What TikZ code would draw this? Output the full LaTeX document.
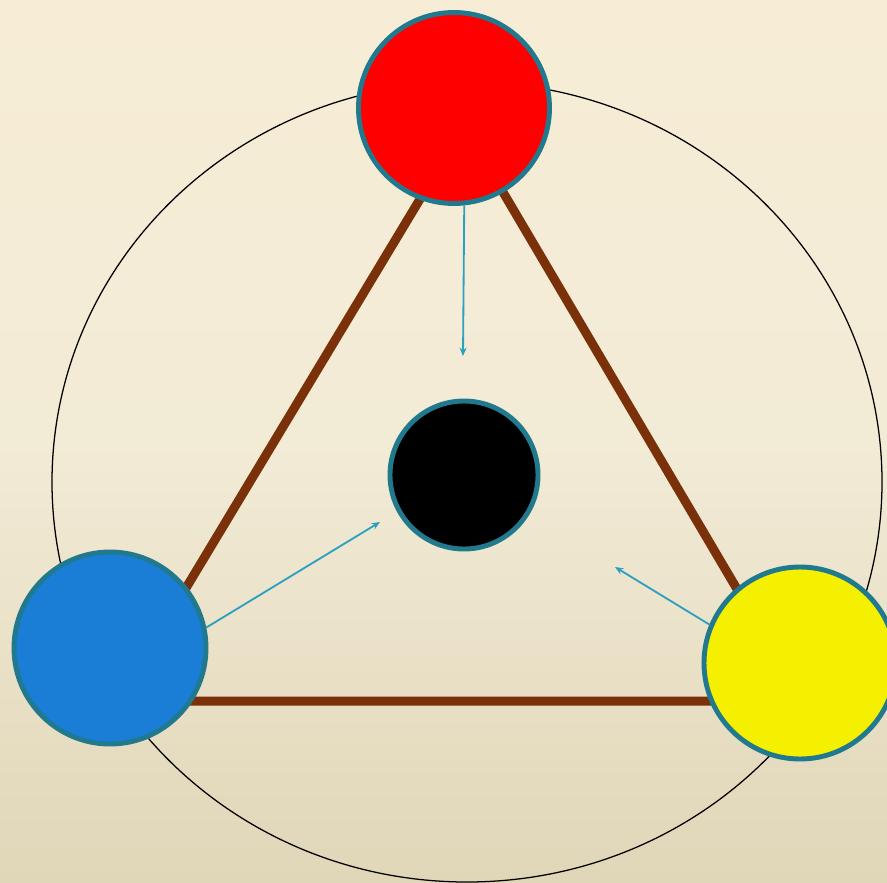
\documentclass[tikz,border=0pt]{standalone}
\usepackage{tikz}
\usetikzlibrary{arrows.meta,positioning,calc}
\definecolor{bgtop}{HTML}{F7EDD6}
\definecolor{bgmid}{HTML}{F2EBD6}
\definecolor{bgbot}{HTML}{E0D6B8}
\definecolor{rim}{HTML}{21798E}
\definecolor{brownedge}{HTML}{7A3008}
\definecolor{pointer}{HTML}{2BA0C0}
\definecolor{bluedot}{HTML}{1A7ED6}
\definecolor{yellowdot}{HTML}{F5F000}
\tikzset{
 dot/.style={circle,draw=rim,line width=3.5pt,inner sep=0pt},
 pointerarrow/.style={draw=pointer,line width=1.3pt,-{Stealth[length=6pt,width=5pt,inset=2pt]}},
}

\begin{document}
\begin{tikzpicture}[x=0.025cm,y=-0.025cm]
\shade[top color=bgtop,bottom color=bgbot,middle color=bgmid] (0,0) rectangle (887,882);
\useasboundingbox (0,0) rectangle (887,882);
% outer ring
\draw[line width=0.9pt] (467,482) ellipse [x radius=415,y radius=400];
% triangle behind the dots
\coordinate (apex) at (464,126);
\coordinate (left) at (118,701);
\coordinate (right) at (803,701);
\draw[brownedge,line width=6.4pt,line join=miter] (apex)--(left)--(right)--cycle;
% dots
\node[dot,fill=red,minimum size=191*0.025cm] (red) at (454,108) {};
\node[dot,fill=black,minimum size=148*0.025cm] (black) at (464,475) {};
\node[dot,fill=bluedot,minimum size=192*0.025cm] (blue) at (110,648) {};
\node[dot,fill=yellowdot,minimum size=192*0.025cm] (yellow) at (800,663) {};
% pointers toward the centre
\coordinate (tipr) at (463,356);
\coordinate (tipb) at (380,522);
\coordinate (tipy) at (615,567);
\draw[pointerarrow] (red.-84.5) -- (tipr);
\draw[pointerarrow] (blue.12) -- (tipb);
\draw[pointerarrow] (yellow.157) -- (tipy);
\end{tikzpicture}
\end{document}
